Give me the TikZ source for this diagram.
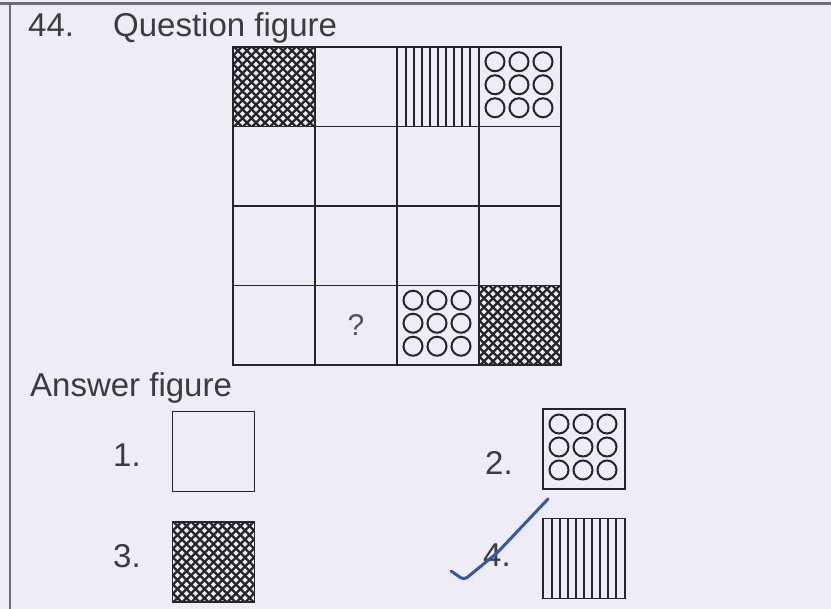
\documentclass[tikz,border=0pt]{standalone}
\usepackage{fontspec}
\setmainfont{Liberation Sans}
\definecolor{paper}{RGB}{238,236,245}
\definecolor{ink}{RGB}{38,38,40}
\definecolor{rule}{RGB}{110,110,115}
\definecolor{pen}{RGB}{55,85,175}
\tikzset{
  grid cell/.style={draw=ink, line width=1.8pt, minimum width=82pt, minimum height=79.5pt, inner sep=0pt, outer sep=0pt},
  answer box/.style={draw=ink, line width=1.8pt, minimum width=82pt, minimum height=80pt, inner sep=0pt, outer sep=0pt},
  hatch line/.style={ink, line width=2.3pt},
  bar line/.style={ink, line width=1.5pt},
  ring/.style={ink, line width=2pt},
  big label/.style={font=\fontsize{33}{36}\selectfont, text=ink!90, anchor=base west, inner sep=0pt}
}
\newcommand{\hatchfill}[1]{%
  \begin{scope}
    \clip (#1.south west) rectangle (#1.north east);
    \begin{scope}[shift={(#1.center)}]
      \foreach \k in {-99,-90,...,99} {
        \draw[hatch line] (\k-50,-50) -- (\k+50,50);
        \draw[hatch line] (\k-50,50) -- (\k+50,-50);
      }
    \end{scope}
  \end{scope}}
\newcommand{\barfill}[1]{%
  \begin{scope}[shift={(#1.center)}]
    \foreach \k in {-32,-24,...,32}
      \draw[bar line] (\k,-40) -- (\k,40);
  \end{scope}}
\newcommand{\ringfill}[1]{%
  \begin{scope}[shift={(#1.center)}]
    \foreach \i in {-25,-1,23}
      \foreach \j in {-25,-2,21}
        \draw[ring] (\i,\j) circle (9.5pt);
  \end{scope}}

\begin{document}
\begin{tikzpicture}[x=1pt, y=-1pt]
  \useasboundingbox (0,0) rectangle (831,609);
  \fill[paper] (0,0) rectangle (831,609);
  \draw[rule, line width=3pt] (0,3.5) -- (831,3.5);
  \draw[rule, line width=2pt] (10,3) -- (10,609);

  % heading
  \node[big label] (qnum) at (28,37) {44.};
  \node[big label] (qtitle) at (113,37) {Question figure};

  % question grid
  \foreach \r in {1,...,4}
    \foreach \c in {1,...,4}
      \node[grid cell] (c\r\c) at ({274+82*(\c-1)}, {86.75+79.5*(\r-1)}) {};
  \hatchfill{c11}
  \barfill{c13}
  \ringfill{c14}
  \ringfill{c43}
  \hatchfill{c44}
  \node[font=\fontsize{30}{32}\selectfont, text=ink!80] (qmark) at (c42.center) {?};

  % answers
  \node[big label] (atitle) at (30,397) {Answer figure};
  \node[answer box] (a1) at (213.5,451.5) {};
  \node[answer box] (a2) at (584,449) {};
  \node[answer box] (a3) at (213.5,562) {};
  \node[answer box] (a4) at (584,558.5) {};
  \node[big label] (n1) at (113,467) {1.};
  \node[big label] (n2) at (485,475) {2.};
  \node[big label] (n3) at (113,568) {3.};
  \node[big label] (n4) at (483,567) {4.};
  \ringfill{a2}
  \hatchfill{a3}
  \barfill{a4}

  % tick mark
  \draw[pen, line width=3pt, line cap=round, line join=round, rounded corners=4pt]
    (451,571) -- (464,580) -- (497,553) -- (548,499);
\end{tikzpicture}
\end{document}
